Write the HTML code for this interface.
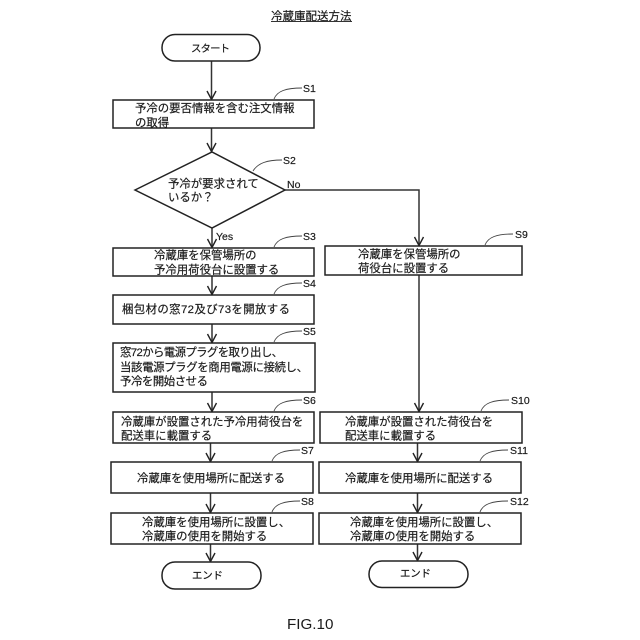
<!DOCTYPE html>
<html><head><meta charset="utf-8"><style>
html,body{margin:0;padding:0;background:#fff}
svg{display:block}
text{font-family:"Liberation Sans","Noto Sans CJK JP",sans-serif;fill:#1a1a1a;stroke:#1a1a1a;stroke-width:0.18}
.t{font-size:11.4px}
.k{font-size:10.4px}
.s{font-size:10.5px}
.b{fill:#fff;stroke:#222;stroke-width:1.5}
.l{fill:none;stroke:#333;stroke-width:1.5}
.c{fill:none;stroke:#444;stroke-width:0.9}
.a{fill:none;stroke:#222;stroke-width:1.4}
</style></head><body>
<svg width="640" height="640" viewBox="0 0 640 640" xmlns="http://www.w3.org/2000/svg">
<rect width="640" height="640" fill="#fff"/>
<text x="271" y="20" style="font-size:11.5px">冷蔵庫配送方法</text>
<line x1="271" y1="21.5" x2="352" y2="21.500" stroke="#333" stroke-width="0.9"/>

<!-- connectors -->
<path class="l" d="M211.500 61V100M211.500 128V152M212 228V248M212 276V295M212 324V343M212 392V412M210.500 443V462M210.500 493V513M210.500 544V562"/>
<path class="l" d="M285 190H419V412M417.500 443V462M417.500 493V513M417.500 544V561"/>
<!-- arrowheads -->
<path class="a" d="M207 91L211.500 99.500L216 91M207 143L211.500 151.500L216 143M207.500 239L212 247.500L216.500 239M207.500 286L212 294.500L216.500 286M207.500 334L212 342.500L216.500 334M207.500 403L212 411.500L216.500 403M206 453L210.500 461.500L215 453M206 504L210.500 512.500L215 504M206 553L210.500 561.500L215 553"/>
<path class="a" d="M414.500 237L419 245.500L423.500 237M414.500 403L419 411.500L423.500 403M413 453L417.500 461.500L422 453M413 504L417.500 512.500L422 504M413 552L417.500 560.500L422 552"/>

<!-- shapes -->
<rect class="b" x="162" y="34.500" width="98" height="26.500" rx="13" ry="13"/>
<rect class="b" x="113" y="100" width="201" height="28"/>
<polygon class="b" points="135,190 212,152 285,190 212,228"/>
<rect class="b" x="113" y="248" width="201" height="28"/>
<rect class="b" x="113" y="295" width="201" height="29"/>
<rect class="b" x="113" y="343" width="202" height="49"/>
<rect class="b" x="113" y="412" width="201" height="31"/>
<rect class="b" x="111" y="462" width="202" height="31"/>
<rect class="b" x="111" y="513" width="202" height="31"/>
<rect class="b" x="162" y="562" width="99" height="27" rx="13" ry="13"/>
<rect class="b" x="325" y="246" width="197" height="29"/>
<rect class="b" x="320" y="412" width="202" height="31"/>
<rect class="b" x="319" y="462" width="202" height="31"/>
<rect class="b" x="319" y="513" width="202" height="31"/>
<rect class="b" x="369" y="561" width="99" height="26.500" rx="13" ry="13"/>

<!-- step leader curves -->
<path class="c" d="M274 99C277 91 286 88 302 88"/>
<path class="c" d="M253 171C258 163 267 160 282 160"/>
<path class="c" d="M274 247C277 239 286 236 302 236"/>
<path class="c" d="M274 294C277 286 286 283 302 283"/>
<path class="c" d="M274 342C277 334 286 331 302 331"/>
<path class="c" d="M274 411C277 403 286 400 302 400"/>
<path class="c" d="M272 461C275 453 284 450 300 450"/>
<path class="c" d="M272 512C275 504 284 501 300 501"/>
<path class="c" d="M485 245C488 237 497 234 513 234"/>
<path class="c" d="M481 411C484 403 493 400 509 400"/>
<path class="c" d="M480 461C483 453 492 450 508 450"/>
<path class="c" d="M480 512C483 504 492 501 508 501"/>

<!-- step labels -->
<text class="s" x="303" y="92">S1</text>
<text class="s" x="283" y="164">S2</text>
<text class="s" x="303" y="240">S3</text>
<text class="s" x="303" y="287">S4</text>
<text class="s" x="303" y="335">S5</text>
<text class="s" x="303" y="404">S6</text>
<text class="s" x="301" y="454">S7</text>
<text class="s" x="301" y="505">S8</text>
<text class="s" x="515" y="238">S9</text>
<text class="s" x="511" y="404">S10</text>
<text class="s" x="510" y="454">S11</text>
<text class="s" x="510" y="505">S12</text>
<text class="s" x="287" y="188">No</text>
<text class="s" x="216" y="240">Yes</text>

<!-- node text -->
<text class="k" x="191" y="52" textLength="39">スタート</text>
<text class="t" x="135" y="112">予冷の要否情報を含む注文情報</text>
<text class="t" x="135" y="126.500">の取得</text>
<text class="t" x="168" y="187.500">予冷が要求されて</text>
<text class="t" x="168" y="201">いるか？</text>
<text class="t" x="154" y="259">冷蔵庫を保管場所の</text>
<text class="t" x="154" y="273.500">予冷用荷役台に設置する</text>
<text class="t" x="122" y="313" textLength="168">梱包材の窓72及び73を開放する</text>
<text class="t" x="120" y="356" textLength="163">窓72から電源プラグを取り出し、</text>
<text class="t" x="120" y="371" textLength="188">当該電源プラグを商用電源に接続し、</text>
<text class="t" x="120" y="385" textLength="88">予冷を開始させる</text>
<text class="t" x="121" y="425.500">冷蔵庫が設置された予冷用荷役台を</text>
<text class="t" x="121" y="439.500">配送車に載置する</text>
<text class="t" x="137" y="482">冷蔵庫を使用場所に配送する</text>
<text class="t" x="142" y="526">冷蔵庫を使用場所に設置し、</text>
<text class="t" x="142" y="540">冷蔵庫の使用を開始する</text>
<text class="k" x="192" y="579" textLength="31">エンド</text>
<text class="t" x="358" y="258">冷蔵庫を保管場所の</text>
<text class="t" x="358" y="272">荷役台に設置する</text>
<text class="t" x="345" y="425.500">冷蔵庫が設置された荷役台を</text>
<text class="t" x="345" y="439.500">配送車に載置する</text>
<text class="t" x="345" y="482">冷蔵庫を使用場所に配送する</text>
<text class="t" x="350" y="526">冷蔵庫を使用場所に設置し、</text>
<text class="t" x="350" y="540">冷蔵庫の使用を開始する</text>
<text class="k" x="400" y="577" textLength="31">エンド</text>

<text x="287" y="629" style="font-size:15.2px;stroke-width:0">FIG.10</text>
</svg>
</body></html>
